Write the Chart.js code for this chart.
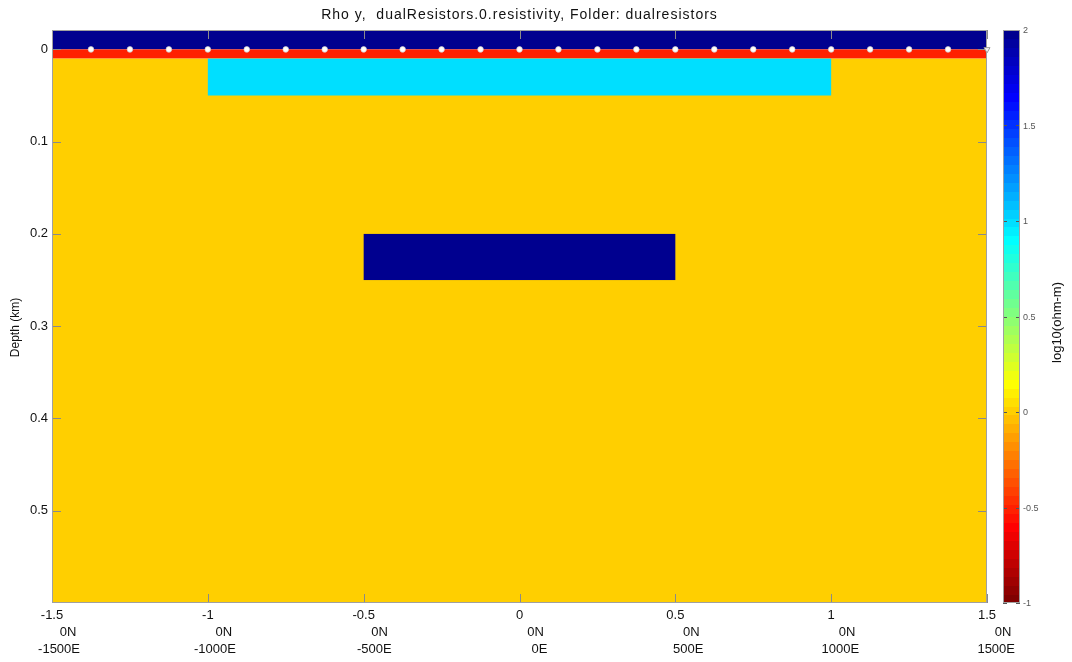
<!DOCTYPE html>
<html>
<head>
<meta charset="utf-8">
<title>Rho y, dualResistors</title>
<script src="https://cdn.jsdelivr.net/npm/chart.js@4"></script>
<style>
  body { margin: 0; background: #fff; }
</style>
</head>
<body>
<canvas id="chart" width="1072" height="662"></canvas>
<script>
// model blocks: position in km, value in log10(ohm-m)
const blockNames = ['air', 'sea', 'sediment', 'shallowResistor', 'deepResistor'];
const blockLeft = [-1.5, -1.5, -1.5, -1, -0.5];
const blockRight = [1.5, 1.5, 1.5, 1, 0.5];
const blockTop = [-0.02, 0, 0.01, 0.01, 0.2];
const blockBottom = [0, 0.01, 0.6, 0.05, 0.25];
const blockLogRho = [2, -0.5, 0, 1, 2];

// receivers on the seafloor
const receiverX = [-1.375, -1.25, -1.125, -1, -0.875, -0.75, -0.625, -0.5, -0.375, -0.25, -0.125, 0,
  0.125, 0.25, 0.375, 0.5, 0.625, 0.75, 0.875, 1, 1.125, 1.25, 1.375];
const receiverDepth = [0, 0, 0, 0, 0, 0, 0, 0, 0, 0, 0, 0, 0, 0, 0, 0, 0, 0, 0, 0, 0, 0, 0];
const sourceX = [1.5];
const sourceDepth = [0];

const xTickValues = [-1.5, -1, -0.5, 0, 0.5, 1, 1.5];
const xTickLabels = ['-1.5', '-1', '-0.5', '0', '0.5', '1', '1.5'];
const northLabels = ['0N', '0N', '0N', '0N', '0N', '0N', '0N'];
const eastLabels = ['-1500E', '-1000E', '-500E', '0E', '500E', '1000E', '1500E'];
const yTickValues = [0, 0.1, 0.2, 0.3, 0.4, 0.5];
const yTickLabels = ['0', '0.1', '0.2', '0.3', '0.4', '0.5'];
const cbTickValues = [-1, -0.5, 0, 0.5, 1, 1.5, 2];
const cbTickLabels = ['-1', '-0.5', '0', '0.5', '1', '1.5', '2'];

const FONT = '"Liberation Sans", Arial, Helvetica, sans-serif';
const TITLE = 'Rho y,  dualResistors.0.resistivity, Folder: dualresistors';
const cbMin = -1, cbMax = 2, nColors = 64;

// matlab style jet(64), flipped so dark red sits at the low end
function buildJet(m) {
  const n = Math.ceil(m / 4);
  const u = [];
  for (let k = 1; k <= n; k++) u.push(k / n);
  for (let k = 1; k < n; k++) u.push(1);
  for (let k = n; k >= 1; k--) u.push(k / n);
  const g0 = Math.ceil(n / 2) - (m % 4 == 1 ? 1 : 0);
  const map = [];
  for (let i = 0; i < m; i++) map.push([0, 0, 0]);
  u.forEach((val, k) => {
    const g = g0 + k, r = g + n, b = g - n;
    if (g >= 0 && g < m) map[g][1] = val;
    if (r >= 0 && r < m) map[r][0] = val;
    if (b >= 0 && b < m) map[b][2] = val;
  });
  return map.reverse().map(c => 'rgb(' + c.map(x => Math.round(x * 255)).join(',') + ')');
}
const palette = buildJet(nColors);

function colorFor(v) {
  const i = Math.floor((v - cbMin) / (cbMax - cbMin) * nColors);
  return palette[Math.max(0, Math.min(nColors - 1, i))];
}

const modelPlugin = {
  id: 'model',
  beforeDatasetsDraw(chart) {
    const { ctx, chartArea: a, scales: { x, y } } = chart;
    ctx.save();
    ctx.beginPath();
    ctx.rect(a.left, a.top, a.right - a.left, a.bottom - a.top);
    ctx.clip();
    blockLogRho.forEach((v, i) => {
      const x0 = x.getPixelForValue(blockLeft[i]);
      const x1 = x.getPixelForValue(blockRight[i]);
      const y0 = y.getPixelForValue(blockTop[i]);
      const y1 = y.getPixelForValue(blockBottom[i]);
      ctx.fillStyle = colorFor(v);
      ctx.fillRect(x0, y0, x1 - x0, y1 - y0);
    });
    ctx.restore();

    // inward tick marks + frame
    ctx.save();
    ctx.strokeStyle = '#8a8a8a';
    ctx.lineWidth = 1;
    ctx.beginPath();
    xTickValues.forEach(v => {
      const px = Math.round(x.getPixelForValue(v)) + 0.5;
      ctx.moveTo(px, a.bottom); ctx.lineTo(px, a.bottom - 9);
      ctx.moveTo(px, a.top); ctx.lineTo(px, a.top + 9);
    });
    yTickValues.forEach(v => {
      const py = Math.round(y.getPixelForValue(v)) + 0.5;
      ctx.moveTo(a.left, py); ctx.lineTo(a.left + 9, py);
      ctx.moveTo(a.right, py); ctx.lineTo(a.right - 9, py);
    });
    ctx.stroke();
    ctx.strokeStyle = '#a0a0a0';
    ctx.strokeRect(a.left + 0.5, a.top + 0.5, a.right - a.left - 1, a.bottom - a.top - 1);
    ctx.restore();
  },
  afterDraw(chart) {
    const { ctx, chartArea: a, scales: { x, cb } } = chart;
    ctx.save();
    // colorbar
    const bx = a.right + 16, bw = 17;
    for (let k = 0; k < nColors; k++) {
      const v0 = cbMin + (cbMax - cbMin) * k / nColors;
      const v1 = cbMin + (cbMax - cbMin) * (k + 1) / nColors;
      const y0 = cb.getPixelForValue(v1), y1 = cb.getPixelForValue(v0);
      ctx.fillStyle = palette[k];
      ctx.fillRect(bx, Math.floor(y0), bw, Math.ceil(y1) - Math.floor(y0));
    }
    ctx.strokeStyle = '#555';
    ctx.lineWidth = 1;
    ctx.beginPath();
    cbTickValues.forEach(v => {
      const py = Math.round(cb.getPixelForValue(v)) + 0.5;
      ctx.moveTo(bx, py); ctx.lineTo(bx + 4, py);
      ctx.moveTo(bx + bw, py); ctx.lineTo(bx + bw - 4, py);
    });
    ctx.stroke();
    ctx.strokeStyle = '#a0a0a0';
    ctx.strokeRect(bx + 0.5, cb.top + 0.5, bw - 1, cb.bottom - cb.top - 1);

    // colorbar tick labels
    ctx.fillStyle = '#555';
    ctx.font = '9px ' + FONT;
    ctx.textAlign = 'left';
    ctx.textBaseline = 'middle';
    cbTickValues.forEach((v, i) => {
      ctx.fillText(cbTickLabels[i], bx + bw + 3, cb.getPixelForValue(v) + 1);
    });

    ctx.fillStyle = '#111';

    // title
    ctx.font = '14px ' + FONT;
    ctx.letterSpacing = '1px';
    ctx.textAlign = 'center';
    ctx.fillText(TITLE, (a.left + a.right) / 2, 15);
    ctx.letterSpacing = '0px';

    // colorbar label, reading upward
    ctx.font = '13px ' + FONT;
    ctx.translate(1057, (a.top + a.bottom) / 2 + 6);
    ctx.rotate(-Math.PI / 2);
    ctx.fillText('log10(ohm-m)', 0, 0);
    ctx.setTransform(1, 0, 0, 1, 0, 0);

    // y axis title
    ctx.font = '12px ' + FONT;
    ctx.translate(16, (a.top + a.bottom) / 2 + 11);
    ctx.rotate(-Math.PI / 2);
    ctx.fillText('Depth (km)', 0, 0);
    ctx.setTransform(1, 0, 0, 1, 0, 0);

    // second and third lines of x labels
    ctx.font = '13px ' + FONT;
    xTickValues.forEach((v, i) => {
      const px = x.getPixelForValue(v);
      ctx.textAlign = 'center';
      ctx.fillText(northLabels[i], px + 16, 632);
      ctx.textAlign = 'right';
      ctx.fillText(eastLabels[i], px + 28, 649);
    });
    ctx.restore();
  }
};

new Chart(document.getElementById('chart'), {
  type: 'scatter',
  data: {
    datasets: [
      {
        label: 'receivers',
        data: receiverX.map((v, i) => ({ x: v, y: receiverDepth[i] })),
        pointStyle: 'circle',
        pointRadius: 2.8,
        backgroundColor: '#ffffff',
        borderColor: '#cfcfcf',
        borderWidth: 0.7
      },
      {
        label: 'source',
        data: sourceX.map((v, i) => ({ x: v, y: sourceDepth[i] })),
        pointStyle: 'triangle',
        rotation: 180,
        pointRadius: 3.5,
        backgroundColor: '#f4f4f4',
        borderColor: '#9a9a9a',
        borderWidth: 1,
        clip: false
      }
    ]
  },
  options: {
    responsive: false,
    animation: false,
    devicePixelRatio: 1,
    layout: { padding: { top: 30, right: 0, left: 0, bottom: 0 } },
    plugins: {
      legend: { display: false },
      tooltip: { enabled: false },
      title: { display: false }
    },
    scales: {
      x: {
        type: 'linear',
        min: -1.5,
        max: 1.5,
        afterBuildTicks: axis => { axis.ticks = xTickValues.map(v => ({ value: v })); },
        afterFit: axis => { axis.height = 59; },
        grid: { display: false, drawTicks: false },
        border: { display: false },
        ticks: {
          autoSkip: false,
          maxRotation: 0,
          padding: 5,
          color: '#111',
          font: { family: FONT, size: 13 },
          callback: (v, i) => xTickLabels[i]
        }
      },
      y: {
        type: 'linear',
        reverse: true,
        min: -0.021,
        max: 0.6,
        afterBuildTicks: axis => { axis.ticks = yTickValues.map(v => ({ value: v })); },
        afterFit: axis => { axis.width = 52; },
        grid: { display: false, drawTicks: false },
        border: { display: false },
        ticks: {
          padding: 4,
          color: '#111',
          font: { family: FONT, size: 13 },
          callback: (v, i) => yTickLabels[i]
        }
      },
      cb: {
        type: 'linear',
        position: 'right',
        min: cbMin,
        max: cbMax,
        afterBuildTicks: axis => { axis.ticks = cbTickValues.map(v => ({ value: v })); },
        afterFit: axis => { axis.width = 85; },
        grid: { display: false, drawTicks: false },
        border: { display: false },
        ticks: { display: false }
      }
    }
  },
  plugins: [modelPlugin]
});
</script>
</body>
</html>
